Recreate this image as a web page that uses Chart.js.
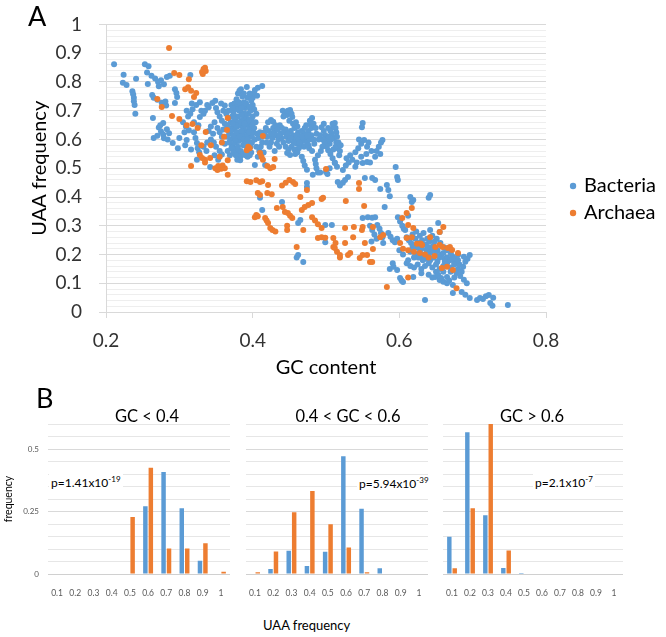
<!DOCTYPE html>
<html>
<head>
<meta charset="utf-8">
<script src="https://cdn.jsdelivr.net/npm/chart.js@4.4.0/dist/chart.umd.min.js"></script>
<style>
  html, body { margin: 0; padding: 0; background: #fff; }
  body { width: 666px; height: 637px; position: relative; overflow: hidden; font-family: Lato, sans-serif; color: #000; }
  canvas { position: absolute; }
  .lbl { position: absolute; white-space: nowrap; line-height: 1; }
  .panel { font-size: 27px; }
  .sub { font-size: 16.5px; transform: translate(-50%, -50%); }
  .pval { font-size: 12px; background: #fff; padding: 1px 2px; transform: translateY(-50%); }
  .pval sup { font-size: 8px; vertical-align: 5px; line-height: 1; }
  .xt { font-size: 13px; transform: translateY(-50%); }
</style>
</head>
<body>
<canvas id="scatter" width="666" height="399" style="left:0;top:0"></canvas>
<canvas id="histLow" width="232" height="172" style="left:0;top:424px"></canvas>
<canvas id="histMid" width="185" height="172" style="left:243px;top:424px"></canvas>
<canvas id="histHigh" width="183" height="172" style="left:440px;top:424px"></canvas>

<div class="lbl panel" style="left:28px;top:2px">A</div>
<div class="lbl panel" style="left:36px;top:384px">B</div>
<div class="lbl sub" style="left:147px;top:416px">GC &lt; 0.4</div>
<div class="lbl sub" style="left:348px;top:416px">0.4 &lt; GC &lt; 0.6</div>
<div class="lbl sub" style="left:532px;top:416px">GC &gt; 0.6</div>
<div class="lbl pval" style="left:49px;top:482px">p=1.41x10<sup>-19</sup></div>
<div class="lbl pval" style="left:357px;top:483px">p=5.94x10<sup>-39</sup></div>
<div class="lbl pval" style="left:533px;top:482px">p=2.1x10<sup>-7</sup></div>
<div class="lbl xt" style="left:263px;top:625px">UAA frequency</div>

<script>
// Panel A: [GC content, UAA frequency] per genome
const bacteriaPoints = [
  [0.211,0.862],[0.224,0.825],[0.223,0.797],[0.228,0.790],[0.241,0.811],[0.236,0.768],[0.237,0.757],[0.238,0.745],[0.238,0.733],[0.239,0.720],[0.240,0.690],
  [0.253,0.862],[0.258,0.855],[0.256,0.833],[0.257,0.793],[0.262,0.822],[0.267,0.812],[0.271,0.800],[0.275,0.806],[0.279,0.792],[0.283,0.817],[0.287,0.822],[0.272,0.785],
  [0.263,0.755],[0.265,0.745],[0.270,0.738],[0.276,0.728],[0.282,0.718],[0.281,0.732],[0.264,0.675],[0.272,0.642],[0.275,0.628],[0.278,0.617],[0.283,0.636],[0.286,0.622],
  [0.270,0.613],[0.279,0.604],[0.284,0.600],[0.265,0.605],[0.278,0.657],[0.274,0.650],[0.291,0.588],[0.298,0.570],[0.300,0.605],
  [0.294,0.775],[0.296,0.762],[0.297,0.748],[0.294,0.727],[0.305,0.660],[0.309,0.645],[0.313,0.632],[0.307,0.625],[0.310,0.598],[0.315,0.824],[0.320,0.625],[0.322,0.605],
  [0.324,0.588],[0.325,0.570],[0.327,0.556],[0.317,0.725],[0.323,0.720],[0.328,0.730],[0.328,0.678],[0.338,0.720],
  [0.310,0.700],[0.315,0.690],[0.318,0.705],[0.312,0.680],[0.320,0.660],[0.326,0.650],[0.330,0.700],[0.333,0.690],[0.308,0.580],[0.316,0.565],[0.324,0.530],
  [0.335,0.700],[0.340,0.712],[0.345,0.727],[0.349,0.735],[0.350,0.710],[0.352,0.695],[0.355,0.680],[0.358,0.665],[0.360,0.700],[0.362,0.718],[0.357,0.725],[0.348,0.660],
  [0.343,0.645],[0.340,0.630],[0.346,0.620],[0.352,0.640],[0.355,0.625],[0.360,0.635],[0.358,0.610],[0.343,0.600],[0.347,0.590],[0.350,0.575],[0.355,0.560],[0.358,0.548],
  [0.362,0.585],[0.342,0.504],[0.353,0.530],[0.348,0.545],[0.337,0.560],[0.333,0.575],[0.338,0.590],
  [0.365,0.650],[0.368,0.620],[0.370,0.600],[0.372,0.703],[0.366,0.560],[0.369,0.545],[0.372,0.580],[0.375,0.610],[0.376,0.590],[0.378,0.570],[0.380,0.555],[0.375,0.640],
  [0.378,0.660],[0.380,0.680],[0.382,0.700],[0.384,0.720],[0.378,0.740],[0.380,0.760],[0.384,0.775],[0.386,0.750],[0.388,0.730],[0.390,0.710],[0.386,0.690],[0.388,0.670],
  [0.390,0.650],[0.392,0.630],[0.386,0.620],[0.384,0.600],[0.389,0.590],[0.392,0.575],[0.394,0.560],[0.390,0.545],[0.383,0.528],[0.383,0.540],[0.395,0.610],[0.396,0.640],
  [0.394,0.690],[0.397,0.700],[0.400,0.720],[0.400,0.745],[0.402,0.760],[0.403,0.772],[0.406,0.752],[0.398,0.665],[0.400,0.680],[0.401,0.625],[0.403,0.600],[0.399,0.590],
  [0.403,0.511],[0.407,0.540],[0.409,0.560],[0.411,0.575],[0.413,0.590],[0.415,0.555],[0.417,0.511],[0.413,0.786],[0.407,0.780],[0.392,0.783],[0.382,0.770],[0.388,0.760],
  [0.370,0.660],[0.372,0.680],[0.374,0.690],[0.376,0.670],[0.379,0.645],[0.381,0.625],[0.383,0.650],[0.385,0.665],[0.387,0.640],[0.389,0.610],[0.391,0.595],[0.393,0.615],
  [0.395,0.590],[0.397,0.575],[0.398,0.555],[0.396,0.545],[0.393,0.540],[0.387,0.580],[0.381,0.595],[0.377,0.600],[0.373,0.635],[0.369,0.640],[0.367,0.675],[0.364,0.690],
  [0.367,0.700],[0.371,0.720],[0.375,0.725],[0.379,0.715],[0.383,0.705],[0.387,0.712],[0.391,0.725],[0.393,0.745],[0.396,0.760],[0.398,0.735],[0.402,0.705],[0.405,0.690],
  [0.404,0.660],[0.402,0.640],[0.406,0.620],[0.408,0.605],[0.410,0.625],[0.405,0.575],[0.399,0.610],[0.397,0.625],[0.394,0.655],[0.391,0.675],[0.389,0.690],[0.385,0.685],
  [0.381,0.660],[0.377,0.650],[0.373,0.655],[0.368,0.590],[0.371,0.570],[0.374,0.555],[0.377,0.545],[0.379,0.530],
  [0.362,0.655],[0.366,0.610],[0.370,0.630],[0.374,0.615],[0.378,0.625],[0.382,0.610],[0.385,0.630],[0.388,0.600],[0.391,0.585],[0.393,0.600],[0.395,0.625],[0.392,0.660],
  [0.389,0.655],[0.385,0.710],[0.381,0.730],[0.377,0.705],[0.373,0.710],[0.396,0.715],[0.399,0.650],[0.401,0.660],[0.395,0.670],[0.384,0.560],[0.387,0.550],[0.380,0.575],
  [0.421,0.660],[0.425,0.668],[0.428,0.662],[0.430,0.630],[0.432,0.615],[0.435,0.600],[0.433,0.585],[0.438,0.620],[0.441,0.700],[0.444,0.690],[0.447,0.685],[0.451,0.703],
  [0.454,0.678],[0.440,0.640],[0.443,0.625],[0.446,0.610],[0.449,0.595],[0.452,0.630],[0.455,0.615],[0.458,0.600],[0.460,0.585],[0.457,0.640],[0.462,0.625],[0.465,0.610],
  [0.468,0.595],[0.466,0.580],[0.470,0.620],[0.472,0.605],[0.474,0.590],[0.478,0.665],[0.481,0.675],[0.479,0.655],[0.447,0.553],[0.451,0.546],[0.458,0.550],[0.467,0.540],
  [0.469,0.525],[0.471,0.510],[0.474,0.495],[0.485,0.530],[0.486,0.515],[0.487,0.500],[0.489,0.485],[0.494,0.643],[0.497,0.630],[0.499,0.615],[0.502,0.600],[0.505,0.585],
  [0.508,0.620],[0.510,0.643],[0.512,0.657],[0.500,0.580],[0.503,0.563],[0.506,0.550],[0.509,0.535],[0.512,0.520],[0.515,0.505],[0.518,0.545],[0.519,0.560],[0.430,0.560],
  [0.436,0.575],[0.425,0.590],[0.420,0.610],[0.418,0.640],[0.413,0.610],[0.416,0.625],
  [0.445,0.635],[0.448,0.620],[0.452,0.605],[0.456,0.590],[0.460,0.615],[0.463,0.600],[0.467,0.630],[0.461,0.645],[0.455,0.655],[0.450,0.665],[0.463,0.570],[0.470,0.575],
  [0.476,0.580],[0.478,0.600],[0.480,0.615],[0.483,0.600],[0.476,0.630],[0.480,0.640],[0.473,0.650],[0.496,0.600],[0.498,0.590],[0.501,0.575],[0.504,0.610],[0.506,0.630],
  [0.511,0.605],[0.514,0.590],[0.516,0.570],[0.510,0.565],[0.497,0.655],[0.493,0.560],[0.489,0.545],[0.423,0.575],[0.427,0.605],[0.437,0.650],
  [0.428,0.640],[0.431,0.650],[0.434,0.635],[0.439,0.605],[0.442,0.590],[0.445,0.575],[0.449,0.565],[0.453,0.575],[0.457,0.565],[0.461,0.555],[0.464,0.590],[0.468,0.610],
  [0.471,0.640],[0.475,0.615],[0.477,0.570],[0.481,0.560],[0.484,0.585],[0.487,0.620],[0.490,0.600],[0.492,0.615],[0.495,0.575],[0.503,0.640],[0.507,0.600],[0.509,0.655],
  [0.513,0.575],[0.517,0.590],[0.483,0.655],[0.486,0.640],[0.459,0.660],[0.453,0.690],[0.448,0.700],[0.442,0.680],[0.436,0.615],[0.426,0.620],[0.422,0.630],[0.419,0.590],
  [0.440,0.383],[0.474,0.449],[0.474,0.435],[0.410,0.397],[0.413,0.355],[0.462,0.310],[0.465,0.320],[0.499,0.303],[0.508,0.303],[0.499,0.243],[0.460,0.190],[0.462,0.198],
  [0.469,0.174],[0.516,0.452],[0.500,0.487],[0.505,0.500],[0.512,0.518],[0.482,0.477],[0.492,0.485],[0.502,0.480],
  [0.513,0.640],[0.514,0.625],[0.515,0.610],[0.549,0.643],[0.550,0.657],[0.540,0.556],[0.544,0.570],[0.548,0.585],[0.552,0.598],[0.556,0.575],[0.567,0.540],[0.569,0.560],
  [0.572,0.575],[0.575,0.590],[0.577,0.598],[0.574,0.550],[0.523,0.494],[0.527,0.510],[0.531,0.520],[0.536,0.530],[0.540,0.505],[0.542,0.520],[0.550,0.518],[0.556,0.522],
  [0.560,0.520],[0.519,0.440],[0.523,0.450],[0.526,0.459],[0.530,0.470],[0.553,0.466],[0.563,0.466],[0.567,0.459],[0.574,0.428],[0.583,0.442],[0.585,0.424],[0.587,0.403],
  [0.595,0.504],[0.597,0.470],[0.598,0.459],[0.580,0.365],[0.550,0.327],[0.557,0.330],[0.563,0.328],[0.567,0.330],[0.570,0.303],[0.573,0.290],[0.575,0.275],[0.577,0.260],
  [0.578,0.240],[0.585,0.275],[0.588,0.262],[0.591,0.250],[0.594,0.243],[0.597,0.255],[0.598,0.330],[0.601,0.315],[0.604,0.300],[0.606,0.290],[0.608,0.285],[0.612,0.335],
  [0.520,0.580],[0.545,0.600],[0.558,0.590],[0.562,0.560],[0.555,0.550],[0.548,0.540],[0.533,0.545],[0.528,0.535],
  [0.560,0.300],[0.563,0.285],[0.566,0.270],[0.569,0.255],[0.562,0.245],
  [0.617,0.383],[0.615,0.400],[0.619,0.390],[0.640,0.397],[0.642,0.407],[0.610,0.260],[0.613,0.250],[0.616,0.240],[0.620,0.232],[0.624,0.226],[0.642,0.285],[0.653,0.310],
  [0.591,0.170],[0.587,0.150],[0.592,0.157],[0.597,0.146],[0.601,0.118],[0.603,0.110],[0.605,0.104],[0.619,0.122],[0.635,0.042],
  [0.610,0.170],[0.615,0.160],[0.620,0.155],[0.625,0.165],[0.630,0.150],[0.635,0.160],[0.640,0.170],[0.645,0.155],[0.650,0.165],[0.655,0.150],[0.660,0.160],[0.665,0.170],
  [0.670,0.155],[0.675,0.165],[0.680,0.150],[0.622,0.200],[0.628,0.210],[0.632,0.195],[0.637,0.215],[0.642,0.205],[0.647,0.190],[0.652,0.215],[0.657,0.200],[0.662,0.185],
  [0.626,0.240],[0.631,0.250],[0.636,0.235],[0.641,0.245],[0.646,0.230],[0.651,0.255],[0.656,0.240],[0.661,0.225],[0.618,0.270],[0.623,0.280],[0.628,0.265],[0.633,0.275],
  [0.638,0.225],[0.655,0.278],[0.665,0.190],[0.672,0.195],[0.680,0.198],[0.688,0.192],[0.696,0.198],[0.669,0.180],[0.675,0.170],[0.682,0.165],[0.687,0.157],[0.678,0.136],
  [0.683,0.125],[0.688,0.112],[0.692,0.100],[0.655,0.111],[0.660,0.105],[0.665,0.100],[0.673,0.094],[0.649,0.122],[0.657,0.118],[0.665,0.122],[0.673,0.066],[0.685,0.070],
  [0.690,0.060],[0.696,0.049],[0.706,0.042],[0.710,0.049],[0.714,0.045],[0.718,0.055],[0.722,0.059],[0.728,0.050],[0.724,0.031],[0.727,0.022],[0.748,0.024],[0.645,0.120],
  [0.640,0.130],[0.650,0.140],[0.630,0.135],[0.612,0.180],[0.605,0.200],[0.600,0.215],
  [0.615,0.210],[0.620,0.190],[0.625,0.225],[0.630,0.220],[0.635,0.185],[0.640,0.225],[0.645,0.215],[0.650,0.200],[0.655,0.190],[0.660,0.205],[0.665,0.215],[0.670,0.205],
  [0.675,0.185],[0.670,0.140],[0.675,0.120],[0.660,0.140],[0.653,0.130],[0.668,0.110],[0.680,0.180],[0.685,0.140],[0.690,0.175],[0.693,0.185],[0.632,0.180],[0.642,0.180],
  [0.652,0.175],[0.662,0.175],[0.626,0.190],[0.618,0.225],[0.622,0.255],[0.645,0.265],[0.638,0.255],[0.648,0.245]
];

const archaeaPoints = [
  [0.286,0.918],[0.293,0.831],[0.300,0.824],[0.331,0.835],[0.333,0.845],[0.335,0.850],[0.332,0.828],[0.336,0.838],[0.313,0.810],[0.308,0.775],[0.312,0.782],[0.316,0.770],
  [0.323,0.762],[0.320,0.748],[0.270,0.741],[0.276,0.713],[0.290,0.682],[0.300,0.671],[0.310,0.650],[0.318,0.654],[0.325,0.640],[0.336,0.626],[0.330,0.580],[0.343,0.580],
  [0.328,0.546],[0.316,0.508],[0.335,0.520],[0.335,0.530],[0.342,0.536],[0.349,0.500],[0.352,0.494],[0.355,0.505],[0.357,0.498],[0.359,0.510],[0.353,0.508],[0.366,0.675],
  [0.358,0.590],[0.361,0.610],[0.365,0.633],[0.355,0.540],[0.366,0.528],[0.366,0.477],[0.392,0.563],[0.394,0.575],[0.396,0.570],[0.414,0.612],[0.410,0.553],[0.412,0.540],
  [0.414,0.530],[0.430,0.532],[0.420,0.508],[0.424,0.500],[0.428,0.504],[0.392,0.455],[0.397,0.452],[0.405,0.458],[0.410,0.452],[0.413,0.455],[0.410,0.407],[0.420,0.414],
  [0.426,0.410],[0.421,0.442],[0.440,0.440],[0.445,0.450],[0.450,0.459],[0.455,0.452],[0.458,0.445],[0.465,0.400],[0.474,0.424],[0.481,0.379],[0.496,0.397],[0.500,0.497],
  [0.494,0.393],[0.407,0.414],[0.433,0.362],[0.441,0.365],[0.444,0.348],[0.403,0.330],[0.405,0.337],[0.407,0.333],[0.417,0.327],[0.419,0.318],[0.421,0.310],[0.424,0.292],
  [0.427,0.285],[0.431,0.280],[0.447,0.300],[0.447,0.285],[0.448,0.344],[0.451,0.335],[0.454,0.327],[0.467,0.355],[0.471,0.365],[0.476,0.372],[0.481,0.330],[0.485,0.318],
  [0.489,0.305],[0.494,0.292],[0.469,0.285],[0.460,0.226],[0.489,0.257],[0.494,0.260],[0.499,0.258],[0.510,0.257],[0.512,0.223],[0.515,0.210],[0.519,0.190],[0.545,0.428],
  [0.545,0.449],[0.527,0.386],[0.552,0.369],[0.526,0.292],[0.538,0.296],[0.549,0.285],[0.550,0.296],[0.510,0.226],[0.513,0.240],[0.526,0.240],[0.530,0.198],[0.533,0.205],
  [0.519,0.198],[0.537,0.260],[0.553,0.240],[0.546,0.188],[0.550,0.198],[0.556,0.198],[0.560,0.174],[0.563,0.174],[0.564,0.219],[0.564,0.296],[0.574,0.260],[0.578,0.268],
  [0.604,0.327],[0.610,0.344],[0.617,0.362],[0.612,0.303],[0.619,0.292],[0.610,0.257],[0.617,0.260],[0.601,0.240],[0.624,0.237],[0.629,0.238],[0.631,0.233],[0.642,0.260],
  [0.660,0.296],[0.655,0.278],[0.649,0.226],[0.659,0.226],[0.669,0.226],[0.605,0.220],[0.612,0.215],[0.620,0.210],[0.628,0.205],[0.635,0.200],[0.640,0.190],[0.648,0.195],
  [0.655,0.233],[0.666,0.223],[0.672,0.216],[0.680,0.205],[0.658,0.153],[0.665,0.157],[0.673,0.146],[0.678,0.083],[0.583,0.087],[0.612,0.120],[0.331,0.536],[0.362,0.500]
];

// Panel B: UAA frequency bins and fraction of genomes per bin
const uaaBins = ['0.1', '0.2', '0.3', '0.4', '0.5', '0.6', '0.7', '0.8', '0.9', '1'];
const lowGcBacteria  = [0, 0, 0, 0, 0, 0.271, 0.408, 0.263, 0.053, 0];
const lowGcArchaea   = [0, 0, 0, 0, 0.228, 0.425, 0.102, 0.102, 0.123, 0.009];
const midGcBacteria  = [0, 0.020, 0.093, 0.032, 0.089, 0.471, 0.261, 0.023, 0, 0];
const midGcArchaea   = [0.007, 0.090, 0.247, 0.332, 0.199, 0.106, 0.007, 0, 0, 0];
const highGcBacteria = [0.149, 0.567, 0.235, 0.024, 0.004, 0, 0, 0, 0, 0];
const highGcArchaea  = [0.023, 0.263, 0.600, 0.094, 0, 0, 0, 0, 0, 0];

const blue = '#5B9BD5';
const orange = '#ED7D31';
Chart.defaults.font.family = 'Lato';

function near(v, step) {
  return Math.abs(v / step - Math.round(v / step)) < 1e-6;
}

// Scatter plot (panel A)
new Chart(document.getElementById('scatter'), {
  type: 'scatter',
  data: {
    datasets: [{
      label: 'Bacteria',
      data: bacteriaPoints.map(p => ({x: p[0], y: p[1]})),
      backgroundColor: blue,
      borderWidth: 0,
      pointRadius: 3,
      order: 1
    }, {
      label: 'Archaea',
      data: archaeaPoints.map(p => ({x: p[0], y: p[1]})),
      backgroundColor: orange,
      borderWidth: 0,
      pointRadius: 3,
      order: 0
    }]
  },
  options: {
    responsive: false,
    animation: false,
    plugins: {
      tooltip: {enabled: false},
      legend: {
        position: 'right',
        labels: {
          usePointStyle: true,
          pointStyle: 'circle',
          boxWidth: 2,
          boxHeight: 4.5,
          padding: 7,
          color: '#000',
          font: {size: 20},
          sort: (a, b) => a.datasetIndex - b.datasetIndex
        }
      }
    },
    scales: {
      x: {
        type: 'linear',
        min: 0.2,
        max: 0.8,
        ticks: {stepSize: 0.2, padding: 11, color: '#333', font: {size: 19}, callback: v => v.toFixed(1)},
        grid: {drawOnChartArea: false, tickLength: 6, color: '#d9d9d9'},
        border: {display: false},
        title: {display: true, text: 'GC content', color: '#000', font: {size: 20}, padding: {top: 0, bottom: 19}},
        afterFit: s => { s.height = 87; }
      },
      y: {
        min: 0,
        max: 1,
        ticks: {
          stepSize: 0.02,
          autoSkip: false,
          padding: 17,
          color: '#333',
          font: {size: 19},
          callback: v => near(v, 0.1) ? String(Math.round(v * 10) / 10) : ''
        },
        grid: {
          tickLength: 7,
          color: ctx => near(ctx.tick.value, 0.1) ? '#d9d9d9' : '#eeeeee',
          tickColor: ctx => near(ctx.tick.value, 0.1) ? '#d9d9d9' : 'rgba(0,0,0,0)'
        },
        border: {display: true, color: '#d9d9d9'},
        title: {display: true, text: 'UAA frequency', color: '#000', font: {size: 20}, padding: {top: 28, bottom: 0}},
        afterFit: s => { s.width = 106; s.paddingTop = 24.5; }
      },
      // empty right axis, keeps the legend away from the plot
      gap: {
        type: 'linear',
        position: 'right',
        ticks: {display: false},
        grid: {display: false},
        border: {display: false},
        afterFit: s => { s.width = Math.max(0, s.chart.width - 546 - (s.chart.legend ? s.chart.legend.width : 0)); }
      }
    }
  }
});

// Histograms (panel B)
function drawHistogram(id, bacteria, archaea, showY) {
  new Chart(document.getElementById(id), {
    type: 'bar',
    data: {
      labels: uaaBins,
      datasets: [{
        label: 'Bacteria',
        data: bacteria,
        backgroundColor: blue,
        categoryPercentage: 0.6,
        barPercentage: 0.82
      }, {
        label: 'Archaea',
        data: archaea,
        backgroundColor: orange,
        categoryPercentage: 0.6,
        barPercentage: 0.82
      }]
    },
    options: {
      responsive: false,
      animation: false,
      layout: {padding: {right: showY ? 2 : 0}},
      plugins: {legend: {display: false}, tooltip: {enabled: false}},
      scales: {
        x: {
          grid: {display: false},
          border: {display: false},
          ticks: {color: '#595959', font: {size: 8.5}, padding: 6, maxRotation: 0, autoSkip: false},
          afterFit: s => { s.height = 22; }
        },
        y: {
          min: 0,
          max: 0.6,
          ticks: {
            display: showY,
            stepSize: 0.05,
            autoSkip: false,
            padding: 9,
            color: '#595959',
            font: {size: 8},
            callback: v => near(v, 0.25) && v < 0.55 ? String(Math.round(v * 100) / 100) : ''
          },
          grid: {
            drawTicks: false,
            color: ctx => ctx.tick.value === 0 ? '#d0d0d0' : (near(ctx.tick.value, 0.25) ? '#d9d9d9' : '#e6e6e6')
          },
          border: {display: false},
          title: {display: showY, text: 'frequency', color: '#000', font: {size: 10.5}, padding: {top: 2, bottom: 0}},
          afterFit: s => { s.width = showY ? 48 : 2; s.paddingTop = 0; }
        }
      }
    }
  });
}

drawHistogram('histLow', lowGcBacteria, lowGcArchaea, true);
drawHistogram('histMid', midGcBacteria, midGcArchaea, false);
drawHistogram('histHigh', highGcBacteria, highGcArchaea, false);
</script>
</body>
</html>
